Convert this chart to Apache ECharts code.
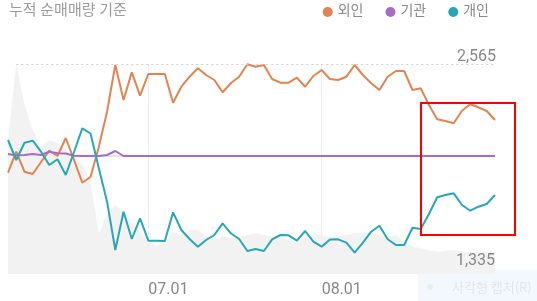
<!DOCTYPE html>
<html>
<head>
<meta charset="utf-8">
<script src="https://cdn.jsdelivr.net/npm/echarts@6/dist/echarts.min.js"></script>
<style>
  html, body { margin: 0; padding: 0; background: #fff; }
  #chart { width: 537px; height: 301px; }
</style>
</head>
<body>
<div id="chart"></div>
<script>
// Trading days (MM.DD)
const dates = [
  '06.08','06.09','06.12','06.13','06.14','06.15','06.16','06.19','06.20','06.21',
  '06.22','06.23','06.26','06.27','06.28','06.29','06.30',
  '07.03','07.04','07.05','07.06','07.07','07.10','07.11','07.12','07.13','07.14',
  '07.17','07.18','07.19','07.20','07.21','07.24','07.25','07.26','07.27','07.28','07.31',
  '08.01','08.02','08.03','08.04','08.07','08.08','08.09','08.10','08.11','08.14',
  '08.16','08.17','08.18','08.21','08.22','08.23','08.24','08.25','08.28','08.29','08.30','08.31'
];

// Cumulative net buying (thousand shares)
const foreign = [
  -167, 43, -157, -180, -60, 53, 0, 180, -40, -267,
  -210, 90, 443, 910, 560, 837, 603, 820, 820, 820,
  533, 693, 793, 877, 810, 760, 637, 727, 793, 917,
  893, 910, 770, 733, 733, 783, 693, 800, 860, 770,
  760, 793, 910, 810, 727, 660, 793, 850, 850, 660,
  677, 510, 367, 350, 327, 453, 517, 487, 450, 360
];
const institution = [
  20, 5, 10, 20, 10, 43, 27, 25, 3, 0,
  0, 0, 10, 50, 0, 0, 0, 0, 0, 0,
  0, 0, 0, 0, 0, 0, 0, 0, 0, 0,
  0, 0, 0, 0, 0, 0, 0, 0, 0, 0,
  0, 0, 0, 0, 0, 0, 0, 0, 0, 0,
  0, 0, 0, 0, 0, 0, 0, 0, 0, 0
];
const individual = [
  160, -40, 133, 153, 43, -90, -33, -190, 40, 277,
  225, -120, -457, -940, -557, -830, -623, -847, -847, -850,
  -563, -740, -830, -907, -840, -790, -673, -773, -830, -950,
  -930, -950, -833, -790, -793, -847, -750, -857, -907, -835,
  -833, -867, -967, -867, -757, -697, -833, -890, -890, -717,
  -730, -580, -413, -390, -373, -490, -547, -507, -480, -390
];

// Closing price (background area)
const price = [
  2071, 2565, 2300, 2136, 2027, 2071, 2050, 2006, 1974, 1909,
  1800, 1465, 1584, 1649, 1605, 1532, 1473, 1421, 1378, 1408,
  1475, 1454, 1486, 1486, 1443, 1421, 1443, 1434, 1443, 1454,
  1465, 1454, 1443, 1443, 1421, 1410, 1443, 1465, 1454, 1440,
  1443, 1454, 1465, 1469, 1465, 1454, 1443, 1454, 1410, 1378,
  1367, 1356, 1345, 1351, 1356, 1350, 1335, 1345, 1345, 1340
];

const seriesNames = ['외인', '기관', '개인'];
const seriesColors = ['#e3834f', '#a96cc6', '#27a8b4'];

const FONT = 'Roboto, "Noto Sans CJK KR", sans-serif';

const last = price.length - 1;
const maxVal = Math.max(...price);
const minVal = Math.min(...price);
const maxIdx = price.indexOf(maxVal);
const minIdx = price.indexOf(minVal);
const fmt = v => v.toLocaleString('en-US');

// first trading day of each month gets a label and a grid line
const monthStart = (idx) => idx > 0 && dates[idx].slice(0, 2) !== dates[idx - 1].slice(0, 2);

const chart = echarts.init(document.getElementById('chart'), null, { renderer: 'canvas' });

chart.setOption({
  animation: false,
  backgroundColor: '#fff',
  textStyle: { fontFamily: FONT },
  title: {
    text: '누적 순매매량 기준',
    left: 4,
    top: -1,
    textStyle: { fontFamily: FONT, fontSize: 15, fontWeight: 'normal', color: '#9c9c9c' }
  },
  legend: {
    data: seriesNames,
    right: 43,
    top: 0,
    icon: 'circle',
    itemWidth: 10,
    itemHeight: 10,
    itemGap: 22,
    textStyle: { fontFamily: FONT, fontSize: 14, color: '#8a8a8a' }
  },
  grid: { left: 8, right: 42, top: 64, bottom: 27 },
  xAxis: {
    type: 'category',
    data: dates,
    boundaryGap: false,
    axisLine: { lineStyle: { color: '#dddddd', width: 1.5 } },
    axisTick: { show: false },
    axisLabel: {
      interval: monthStart,
      formatter: v => v.slice(0, 2) + '.01',
      align: 'left',
      color: '#888',
      fontSize: 16,
      fontFamily: FONT,
      margin: 8
    },
    splitLine: { show: true, interval: monthStart, lineStyle: { color: '#ededed', width: 1 } }
  },
  yAxis: [
    { type: 'value', min: -1180, max: 920, show: false },
    { type: 'value', min: 1200, max: 2565, show: false }
  ],
  series: [
    {
      name: '주가',
      type: 'line',
      yAxisIndex: 1,
      data: price,
      symbol: 'none',
      lineStyle: { width: 0 },
      areaStyle: { color: '#f2f2f2', opacity: 1 },
      z: 1,
      silent: true,
      markLine: {
        silent: true,
        symbol: ['none', 'none'],
        data: [
          [
            { coord: [maxIdx, maxVal], lineStyle: { color: '#cfcfcf', type: [2, 3], width: 1 },
              label: { show: true, position: 'insideEndTop', formatter: fmt(maxVal), distance: -1 } },
            { coord: [last, maxVal] }
          ],
          [
            { coord: [minIdx, minVal], lineStyle: { color: 'rgba(0,0,0,0)', width: 0 },
              label: { show: true, position: 'insideEndBottom', formatter: fmt(minVal), distance: 0 } },
            { coord: [last, minVal] }
          ]
        ],
        label: { color: '#888', fontSize: 16, fontFamily: FONT }
      }
    },
    {
      name: seriesNames[0], type: 'line', data: foreign, yAxisIndex: 0,
      symbol: 'none', color: seriesColors[0], lineStyle: { width: 2 }, z: 3
    },
    {
      name: seriesNames[1], type: 'line', data: institution, yAxisIndex: 0,
      symbol: 'none', color: seriesColors[1], lineStyle: { width: 2 }, z: 3
    },
    {
      name: seriesNames[2], type: 'line', data: individual, yAxisIndex: 0,
      symbol: 'none', color: seriesColors[2], lineStyle: { width: 2 }, z: 3
    }
  ],
  graphic: [
    {
      type: 'rect',
      shape: { x: 421, y: 103, width: 94, height: 132 },
      style: { fill: 'none', stroke: '#ff0000', lineWidth: 2 },
      z: 100
    },
    {
      type: 'group',
      z: 90,
      children: [
        { type: 'rect', shape: { x: 418, y: 270, width: 119, height: 31 },
          style: { fill: 'rgba(228,240,252,0.45)' } },
        { type: 'circle', shape: { cx: 430, cy: 287, r: 3 },
          style: { fill: '#e9eef6' } },
        { type: 'text', x: 452, y: 287,
          style: { text: '사각형 캡처(R)', fill: '#e3e5ec', font: '13px "Noto Sans CJK KR", sans-serif', verticalAlign: 'middle' } }
      ]
    }
  ]
});
</script>
</body>
</html>
